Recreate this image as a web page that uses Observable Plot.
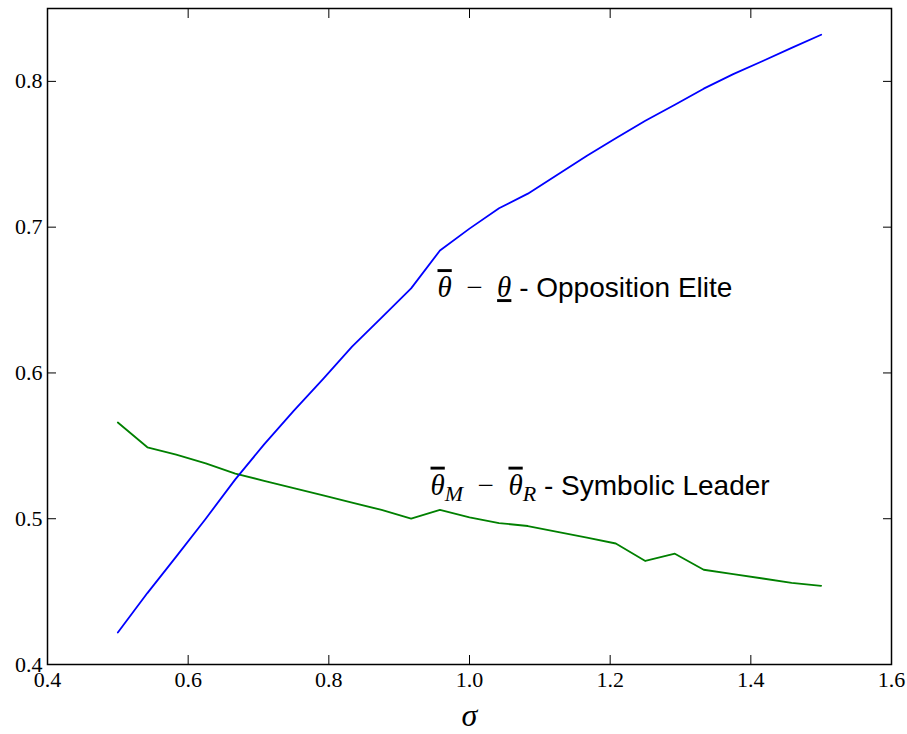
<!DOCTYPE html>
<html>
<head>
<meta charset="utf-8">
<script src="https://cdn.jsdelivr.net/npm/d3@7"></script>
<script src="https://cdn.jsdelivr.net/npm/@observablehq/plot@0.6"></script>
<style>
  html, body { margin: 0; padding: 0; background: #fff; }
  #chart svg { display: block; }
</style>
</head>
<body>
<div id="chart"></div>
<script>
// sigma values (x)
const sigma = [0.500, 0.542, 0.583, 0.625, 0.667, 0.708, 0.750, 0.792, 0.833, 0.875,
               0.917, 0.958, 1.000, 1.042, 1.083, 1.125, 1.167, 1.208, 1.250, 1.292,
               1.333, 1.375, 1.417, 1.458, 1.500];
// Opposition Elite (blue)
const oppositionElite = [0.422, 0.449, 0.474, 0.500, 0.527, 0.551, 0.574, 0.596, 0.618, 0.638,
                         0.658, 0.684, 0.699, 0.713, 0.723, 0.736, 0.749, 0.761, 0.773, 0.784,
                         0.795, 0.805, 0.814, 0.823, 0.832];
// Symbolic Leader (green)
const symbolicLeader = [0.566, 0.549, 0.544, 0.538, 0.531, 0.526, 0.521, 0.516, 0.511, 0.506,
                        0.500, 0.506, 0.501, 0.497, 0.495, 0.491, 0.487, 0.483, 0.471, 0.476,
                        0.465, 0.462, 0.459, 0.456, 0.454];
const xTicks = [0.4, 0.6, 0.8, 1.0, 1.2, 1.4, 1.6];
const yTicks = [0.4, 0.5, 0.6, 0.7, 0.8];
const xLabel = "σ";
// annotation text and position
const annotX = [0.9545, 0.9446];
const annotY = [0.652, 0.5165];
const annotPlain = ["θ − θ - Opposition Elite", "θM − θR - Symbolic Leader"];
// o: overline, u: underline, s: subscript, m: math
const annotParts = [
  [{t: "θ", m: true, o: true}, {t: "\u2002−\u2002", m: true}, {t: "θ", m: true, u: true}, {t: " - Opposition Elite"}],
  [{t: "θ", m: true, o: true}, {t: "M", m: true, s: true}, {t: "\u2002−\u2002", m: true},
   {t: "θ", m: true, o: true}, {t: "R", m: true, s: true}, {t: " - Symbolic Leader"}]
];

const blueData = sigma.map((s, i) => ({s, v: oppositionElite[i]}));
const greenData = sigma.map((s, i) => ({s, v: symbolicLeader[i]}));
const annotData = annotPlain.map((t, i) => ({t, x: annotX[i], y: annotY[i]}));

const fmt = d3.format(".1f");
const serif = "'Liberation Serif', 'DejaVu Serif', serif";
const sans = "'Liberation Sans', Arial, sans-serif";

const plot = Plot.plot({
  width: 907,
  height: 734,
  marginTop: 8,
  marginRight: 16,
  marginBottom: 70,
  marginLeft: 47,
  style: {background: "#fff", fontFamily: serif, fontSize: "22px", color: "#000"},
  x: {domain: [0.4, 1.6], ticks: xTicks, tickFormat: fmt},
  y: {domain: [0.4, 0.85], ticks: yTicks, tickFormat: fmt},
  marks: [
    Plot.lineY(greenData, {x: "s", y: "v", stroke: "#008000", strokeWidth: 1.8}),
    Plot.lineY(blueData, {x: "s", y: "v", stroke: "#0000ff", strokeWidth: 1.8}),
    Plot.axisY(yTicks, {anchor: "left", tickSize: -9, fill: "none", label: null}),
    Plot.axisY(yTicks, {anchor: "right", tickSize: -9, fill: "none", label: null}),
    Plot.axisX(xTicks, {anchor: "bottom", tickSize: -9, fill: "none", label: null}),
    Plot.axisX(xTicks, {anchor: "top", tickSize: -9, fill: "none", label: null}),
    Plot.axisY(yTicks, {anchor: "left", tickSize: 0, tickPadding: 5, tickFormat: fmt, fontSize: 22, label: null}),
    Plot.axisX(xTicks, {anchor: "bottom", tickSize: 0, tickPadding: 7, tickFormat: fmt, fontSize: 22, label: null}),
    Plot.frame({stroke: "#000", strokeWidth: 1.5}),
    Plot.text(annotData, {x: "x", y: "y", text: "t", textAnchor: "start", lineAnchor: "bottom",
      fontSize: 28, fill: "#000"}),
    Plot.text([xLabel], {frameAnchor: "bottom", dy: 51, fontSize: 32, fontStyle: "italic",
      fontFamily: serif, lineAnchor: "middle"})
  ]
});

document.getElementById("chart").appendChild(plot);

// Rebuild annotation text with math styling (tspans)
d3.select(plot).selectAll("text").each(function() {
  const i = annotPlain.indexOf(this.textContent);
  if (i < 0) return;
  const sel = d3.select(this);
  sel.text(null);
  let shifted = false;
  annotParts[i].forEach(p => {
    const ts = sel.append("tspan").text(p.t);
    if (p.m) {
      ts.style("font-family", serif)
        .style("font-style", p.t.includes("−") ? "normal" : "italic")
        .style("font-size", "29px");
      if (p.o) ts.style("text-decoration", "overline").style("text-decoration-thickness", "1px");
      if (p.u) ts.style("text-decoration", "underline").style("text-decoration-thickness", "1px");
    } else {
      ts.style("font-family", sans).style("font-size", "28px");
    }
    if (p.s) {
      ts.style("font-size", "22px").attr("dy", 6);
      shifted = true;
    } else if (shifted) {
      ts.attr("dy", -6);
      shifted = false;
    }
  });
});
</script>
</body>
</html>
